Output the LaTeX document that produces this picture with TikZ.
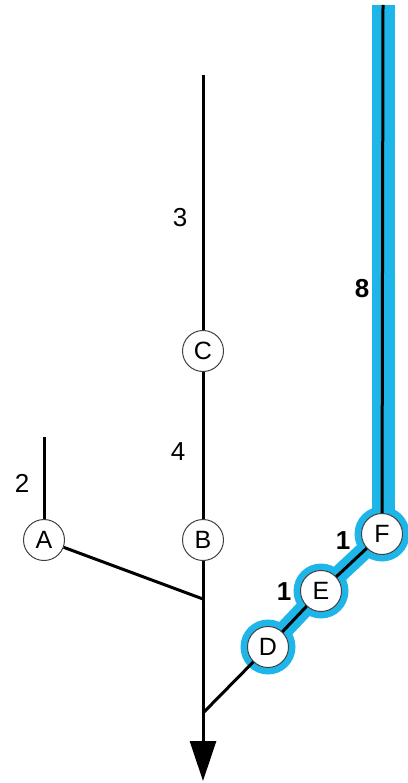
\documentclass[tikz,border=0pt]{standalone}
\usepackage{fontspec}
\setmainfont{Liberation Sans}
\usetikzlibrary{arrows.meta}
\definecolor{halo}{RGB}{30,182,232}
\begin{document}
\begin{tikzpicture}[x=1pt,y=-1pt,
  stn/.style={circle, draw=black!75, line width=1pt, fill=white, minimum size=41pt, inner sep=0pt, font=\fontsize{25}{25}\selectfont},
  halocirc/.style={circle, fill=halo, minimum size=55pt, inner sep=0pt},
  lbl/.style={font=\fontsize{26}{26}\selectfont},
  blbl/.style={font=\bfseries\fontsize{26}{26}\selectfont},
  edge/.style={line width=3pt},
  haloline/.style={draw=halo, line width=23pt}]
\useasboundingbox (0,0) rectangle (407,783);
% coordinates
\coordinate (top) at (203,75);
\coordinate (atop) at (44,437);
\coordinate (ftop) at (383,5);
\coordinate (j1) at (203,599);
\coordinate (j2) at (203,713);
\coordinate (tip) at (203,781);
% halo
\draw[haloline] (ftop) -- (383,534);
\draw[draw=halo, line width=18pt] (268,647) -- (321,591) -- (382,534);
\node[halocirc] (hD) at (268,647) {};
\node[halocirc] (hE) at (321,591) {};
\node[halocirc] (hF) at (382,534) {};
% stations
\node[stn] (A) at (44,540) {A};
\node[stn] (B) at (203,540) {B};
\node[stn] (C) at (203,351) {C};
\node[stn] (D) at (268,647) {D};
\node[stn] (E) at (321,591) {E};
\node[stn] (F) at (382,534) {F};
% connectors
\draw[edge] (top) -- (C);
\draw[edge] (C) -- (B);
\draw[edge] (atop) -- (A);
\draw[edge] (B) -- (j1);
\draw[edge] (A) -- (j1);
\draw[edge] (j1) -- (j2);
\draw[edge] (D) -- (j2);
\draw[edge] (D) -- (E);
\draw[edge] (E) -- (F);
\draw[edge] (ftop) -- (F);
\draw[edge, -{Triangle[length=40pt,width=26pt]}] (j2) -- (tip);
% labels
\node[lbl] (l3) at (180,218) {3};
\node[lbl] (l4) at (178,452) {4};
\node[lbl] (l2) at (22,483) {2};
\node[blbl] (l8) at (362,289) {8};
\node[blbl] (l1a) at (343,541) {1};
\node[blbl] (l1b) at (284,592) {1};
\end{tikzpicture}
\end{document}
